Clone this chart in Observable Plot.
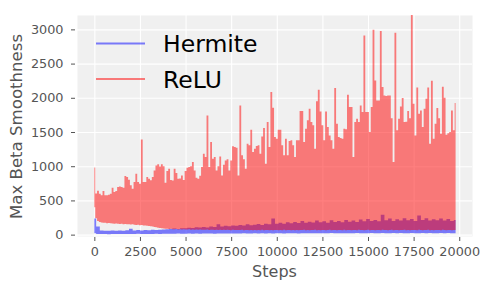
<!DOCTYPE html>
<html><head><meta charset="utf-8">
<script src="https://cdn.jsdelivr.net/npm/d3@7"></script>
<script src="https://cdn.jsdelivr.net/npm/@observablehq/plot@0.6"></script>
<style>
body{margin:0;background:#fff;font-family:"DejaVu Sans",sans-serif;}
#wrap{position:relative;width:489px;height:290px;}
#wrap svg{position:absolute;left:0;top:0;}
</style></head>
<body><div id="wrap"></div>
<script>
const seriesNames = ["Hermite", "ReLU"];
const seriesColors = ["blue", "red"];
const xTicks = [0, 2500, 5000, 7500, 10000, 12500, 15000, 17500, 20000];
const yTicks = [0, 500, 1000, 1500, 2000, 2500, 3000];
const xLabel = "Steps";
const yLabel = "Max Beta Smoothness";

// ReLU: envelope of the noisy line, every 100 steps (0 .. 19800)
const reluSteps = d3.range(0, 19801, 100);
const reluHigh = [
 980,600,640,598,574,637,574,574,583,598,
 686,622,637,695,705,695,686,856,841,802,
 720,671,768,890,768,744,1392,768,768,841,
 817,793,841,939,1012,1027,997,1027,1000,760,
 930,963,800,790,963,900,817,820,866,800,
 930,978,988,1000,1061,939,830,817,860,988,
 1182,1134,1742,988,1353,1109,1134,939,1000,1143,
 866,1020,1085,1100,939,1085,1290,1280,1270,866,
 1889,1159,1100,964,1329,1305,1534,1207,1256,1295,
 1305,1183,1436,1558,1037,1645,1280,2084,1855,1427,
 1402,1534,1534,1305,1159,1402,1159,1368,1378,1305,
 1134,1378,1378,1806,1806,1353,1548,1670,1840,1645,
 1600,1256,1948,2118,1800,1600,1380,1801,1573,1450,
 1378,1256,2142,1621,1426,1412,1400,1548,1539,2045,
 1865,1865,1134,1646,1694,1645,1889,1792,2912,1792,
 1792,1500,1865,2994,2254,1962,1962,2975,2157,2035,
 2025,2035,2035,1700,1061,2950,1524,1694,1874,1996,
 1646,1650,1806,1700,3300,1913,1450,2150,1768,1816,
 1573,1840,1986,2150,1329,2250,1402,1621,1850,1700,
 1475,2160,2000,1460,1480,1500,1816,1524,1925
];
const reluLow = [
 400,240,200,185,178,172,175,168,170,165,
 162,160,164,158,155,160,152,156,150,152,
 148,150,145,142,146,138,140,135,132,130,
 125,122,118,112,108,102,98,92,88,85,
 85,82,86,80,78,82,76,80,75,78,
 76,74,78,72,75,73,76,70,74,72,
 72,70,74,68,72,70,66,71,69,72,
 68,70,66,72,68,65,70,67,69,66,
 66,70,64,68,66,63,69,65,67,64,
 68,65,70,64,66,68,63,67,65,69,
 66,64,68,65,70,63,67,66,64,68,
 65,69,64,67,66,70,65,68,63,67,
 66,70,64,68,65,67,69,64,66,70,
 65,68,66,63,69,67,65,70,64,68,
 66,64,69,67,65,70,66,68,64,67,
 70,65,68,66,64,69,67,65,70,66,
 68,64,67,70,65,66,69,64,68,66,
 70,65,67,64,69,66,68,65,70,67,
 64,68,66,70,65,67,64,69,66,68,
 65,70,66,64,68,67,65,69,66
];

// Hermite: envelope every 200 steps (0 .. 19800)
const hermiteSteps = d3.range(0, 19801, 200);
const hermiteHigh = [
 234,120,62,58,55,60,56,62,58,64,85,60,66,62,68,64,70,66,72,75,
 80,86,90,84,95,92,100,96,108,104,112,106,118,112,150,120,128,122,135,128,
 140,132,150,138,146,155,142,160,150,235,160,172,158,180,165,185,170,200,175,190,
 178,205,182,195,175,210,185,198,180,215,190,205,185,220,195,230,200,215,195,290,
 210,235,200,225,205,240,210,230,200,280,215,240,205,225,210,235,205,228,200,215
];
const hermiteLow = [
 20,10,8,9,7,10,8,9,11,8,10,9,12,10,9,11,10,12,11,13,
 12,14,12,15,13,14,16,13,15,14,16,15,17,14,16,18,15,17,16,18,
 17,19,16,18,20,17,19,18,20,17,19,21,18,20,19,22,18,21,20,19,
 21,20,22,19,21,23,20,22,21,19,22,20,23,21,20,22,24,21,20,23,
 22,20,23,21,24,22,20,23,21,22,24,21,23,20,22,24,21,23,22,20
];

const relu = reluSteps.map((s, i) => ({step: s, lo: reluLow[i], hi: reluHigh[i]}));
const hermite = hermiteSteps.map((s, i) => ({step: s, lo: hermiteLow[i], hi: hermiteHigh[i]}));

const W = 489, H = 290, mL = 77, mR = 17, mT = 15, mB = 54;
const fmt = d => String(d);

const chart = Plot.plot({
  width: W, height: H,
  marginLeft: mL, marginRight: mR, marginTop: mT, marginBottom: mB,
  style: {background: "transparent", fontFamily: "DejaVu Sans", fontSize: "12.8px", color: "#555"},
  x: {domain: [-950, 20700]},
  y: {domain: [-20, 3210]},
  marks: [
    Plot.frame({fill: "#F0F0F0", stroke: null}),
    Plot.gridX(xTicks, {stroke: "white", strokeOpacity: 1, strokeWidth: 1.1}),
    Plot.gridY(yTicks, {stroke: "white", strokeOpacity: 1, strokeWidth: 1.1}),
    Plot.areaY(hermite, {x: "step", y1: "lo", y2: "hi", fill: seriesColors[0], fillOpacity: 0.5, curve: "step", clip: true}),
    Plot.areaY(relu, {x: "step", y1: "lo", y2: "hi", fill: seriesColors[1], fillOpacity: 0.5, curve: "step", clip: true}),
    Plot.axisX(xTicks, {tickSize: 4, tickPadding: 5, dy: 1, tickFormat: fmt, label: null, stroke: "#555", fill: "#555", fontSize: 12.8}),
    Plot.axisY(yTicks, {tickSize: 4, tickPadding: 8, dx: -2, tickFormat: fmt, label: null, stroke: "#555", fill: "#555", fontSize: 12.8})
  ]
});
const wrap = document.getElementById("wrap");
wrap.appendChild(chart);

// overlay: legend and axis titles
const ov = d3.select(wrap).append("svg").attr("width", W).attr("height", H)
  .style("font-family", "DejaVu Sans");
const legY = [43.5, 79];
seriesNames.forEach((name, i) => {
  ov.append("line").attr("x1", 96).attr("x2", 145).attr("y1", legY[i]).attr("y2", legY[i])
    .attr("stroke", seriesColors[i]).attr("stroke-opacity", 0.5).attr("stroke-width", 2);
  ov.append("text").attr("x", 163).attr("y", legY[i] + 8.8).attr("font-size", 23.5)
    .attr("fill", "#000").text(name);
});
ov.append("text").attr("x", (mL + W - mR) / 2).attr("y", 276.7).attr("text-anchor", "middle")
  .attr("font-size", 16).attr("fill", "#555").text(xLabel);
ov.append("text").attr("transform", `translate(21.5,${(mT + H - mB) / 2 + 1}) rotate(-90)`)
  .attr("text-anchor", "middle").attr("font-size", 16.6).attr("fill", "#555").text(yLabel);
</script>
</body></html>
